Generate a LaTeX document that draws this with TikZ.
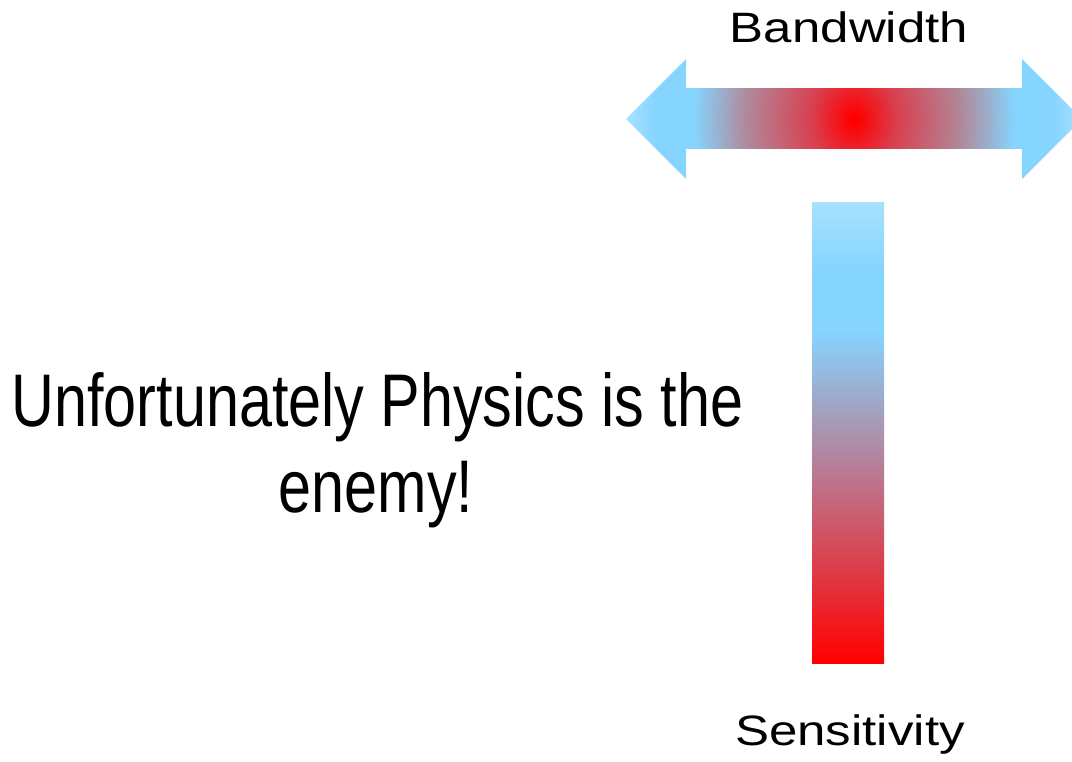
\documentclass[tikz,border=0pt]{standalone}
\usepackage{fontspec}
\setmainfont{Liberation Sans}
\newfontfamily\narrowfont[FakeStretch=0.795]{Liberation Sans}
\newfontfamily\widefont[FakeStretch=1.2]{Liberation Sans}
\definecolor{skyb}{HTML}{85D5FF}
\definecolor{lightb}{HTML}{A8E0FF}
\definecolor{glowA}{HTML}{D84050}
\definecolor{glowB}{HTML}{B08898}
\pgfdeclareverticalshading{barshade}{100bp}{color(0bp)=(red); color(25bp)=(red); color(61.2bp)=(skyb); color(67.7bp)=(skyb); color(75bp)=(lightb); color(100bp)=(lightb)}
\pgfdeclarehorizontalshading{arrowshade}{100bp}{color(0bp)=(lightb); color(25bp)=(lightb); color(28.3bp)=(skyb); color(71.7bp)=(skyb); color(75bp)=(lightb); color(100bp)=(lightb)}
\pgfdeclareradialshading{glow}{\pgfpoint{0bp}{0bp}}{color(0bp)=(red); color(0.5bp)=(red); color(6.5bp)=(glowA); color(16bp)=(glowB); color(24bp)=(skyb); color(50bp)=(skyb)}
\tikzset{
  label/.style={inner sep=0pt, anchor=base, text=black},
  labelfont/.style={font=\widefont\fontsize{42.5}{50}\selectfont},
  bigfont/.style={font=\narrowfont\fontsize{74.6}{86}\selectfont}
}
\begin{document}
\begin{tikzpicture}[x=1pt,y=-1pt]
\useasboundingbox (0,0) rectangle (1072,762);
\clip (0,0) rectangle (1072,762);
% double arrow (bandwidth)
\shade[shading=arrowshade] (626,119) -- (686,59) -- (686,89) -- (1022,89) -- (1022,59) -- (1082,119)
  -- (1022,179) -- (1022,149) -- (686,149) -- (686,179) -- cycle;
\begin{scope}
  \clip (686,89) rectangle (1022,149);
  \shade[shading=glow] (686,-81) rectangle (1022,319);
\end{scope}
% vertical bar (sensitivity)
\shade[shading=barshade] (812,203) rectangle (884,663);
% labels
\node[label, labelfont] (bw) at (849,42.5) {Bandwidth};
\node[label, labelfont] (sens) at (850,745) {Sensitivity};
\node[label, bigfont] (phys1) at (377.5,426.7) {Unfortunately Physics is the};
\node[label, bigfont] (phys2) at (376,512.7) {enemy!};
\end{tikzpicture}
\end{document}
